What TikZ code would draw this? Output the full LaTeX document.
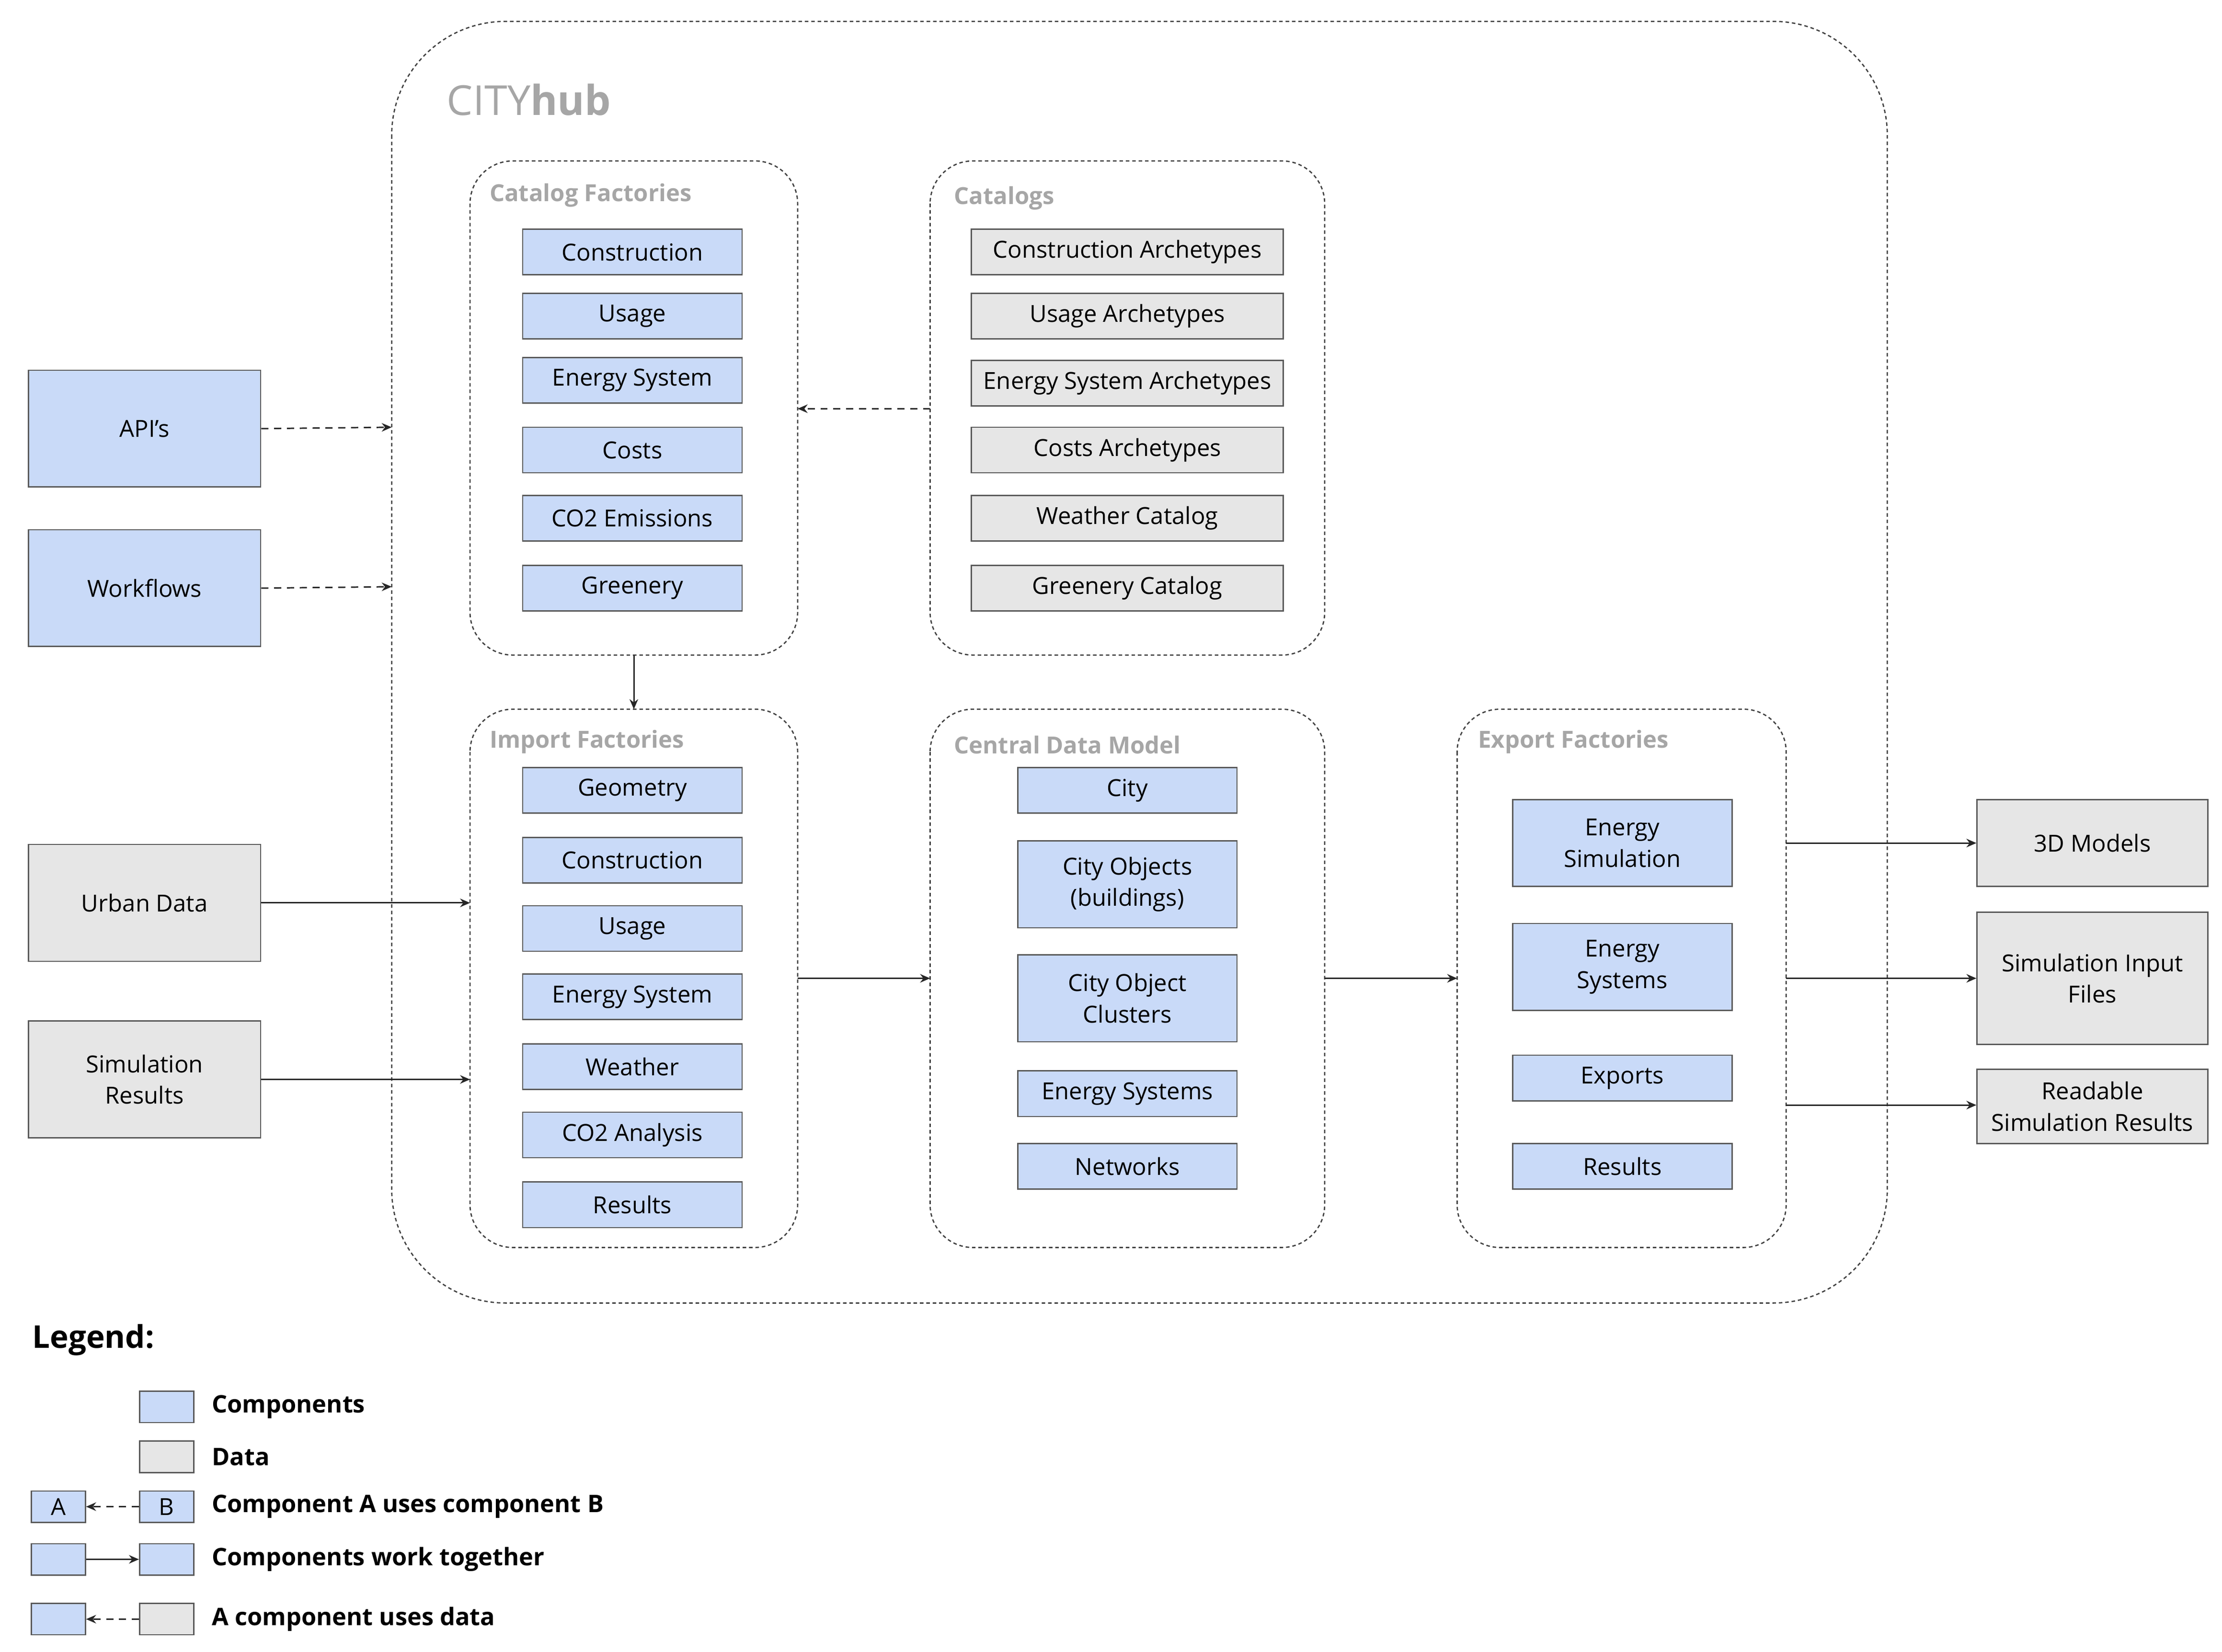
\documentclass[tikz,border=0pt]{standalone}
\usepackage{fontspec}
\setmainfont{Open Sans}
\usetikzlibrary{arrows.meta}
\definecolor{bl}{HTML}{C9DAF8}
\definecolor{gr}{HTML}{E6E6E6}
\definecolor{ln}{HTML}{595959}
\definecolor{tl}{HTML}{A6A6A6}
\begin{document}
\begin{tikzpicture}[x=1pt,y=-1pt,line width=0.9pt,
  txt/.style={font=\fontsize{16.5}{22}\selectfont,align=center},
  comp/.style={draw=ln,fill=bl,txt,inner sep=0pt,minimum height=32pt},
  dat/.style={draw=ln,fill=gr,txt,inner sep=0pt,minimum height=32pt},
  cont/.style={draw=black!75,dash pattern=on 2.5pt off 2pt,rounded corners=30pt},
  clabel/.style={anchor=west,text=tl,font=\fontsize{16.5}{20}\selectfont\bfseries},
  arr/.style={-{Stealth[length=7pt,width=6pt]},draw=black!85,line width=1pt},
  darr/.style={arr,dash pattern=on 5pt off 4pt},
  leg/.style={anchor=west,font=\fontsize{17}{20}\selectfont\bfseries},
  lb/.style={draw=ln,inner sep=0pt,minimum width=38pt,minimum height=22pt,txt}]
\useasboundingbox (0,0) rectangle (1560,1160);
\draw[cont,rounded corners=80pt] (275,15) rectangle (1325,915);
\node[anchor=west,text=tl,font=\fontsize{29}{34}\selectfont] at (310,70) {CITY\textbf{hub}};
% containers
\draw[cont] (330,113) rectangle (560,460);
\coordinate (cfR) at (560,287); \coordinate (cfB) at (445,460);
\node[clabel] at (340,137) {Catalog Factories};
\draw[cont] (653,113) rectangle (930,460);
\coordinate (caL) at (653,287);
\node[clabel] at (666,139) {Catalogs};
\draw[cont] (330,498) rectangle (560,876);
\coordinate (ifT) at (445,498); \coordinate (ifR) at (560,687);
\coordinate (ifL1) at (330,634); \coordinate (ifL2) at (330,758);
\node[clabel] at (340,521) {Import Factories};
\draw[cont] (653,498) rectangle (930,876);
\coordinate (cdL) at (653,687); \coordinate (cdR) at (930,687);
\node[clabel] at (666,523) {Central Data Model};
\draw[cont] (1023,498) rectangle (1254,876);
\coordinate (efL) at (1023,687);
\coordinate (efR1) at (1254,592); \coordinate (efR2) at (1254,687); \coordinate (efR3) at (1254,776);
\node[clabel] at (1034,521) {Export Factories};
\coordinate (hubL1) at (275,300); \coordinate (hubL2) at (275,412);
\foreach \t/\y/\n in {Construction/177/a1,Usage/222/a2,Energy System/267/a3,Costs/316/a4,CO2 Emissions/364/a5,Greenery/413/a6}
  \node[comp,minimum width=154pt] (\n) at (444,\y) {\t};
\foreach \t/\y/\n in {Construction Archetypes/177/b1,Usage Archetypes/222/b2,Energy System Archetypes/269/b3,Costs Archetypes/316/b4,Weather Catalog/364/b5,Greenery Catalog/413/b6}
  \node[dat,minimum width=219pt] (\n) at (791.5,\y) {\t};
\foreach \t/\y/\n in {Geometry/555/c1,Construction/604/c2,Usage/652/c3,Energy System/700/c4,Weather/749/c5,CO2 Analysis/797/c6,Results/846/c7}
  \node[comp,minimum width=154pt] (\n) at (444,\y) {\t};
\node[comp,minimum width=154pt] (d1) at (791.5,555) {City};
\node[comp,minimum width=154pt,minimum height=61pt] (d2) at (791.5,621) {City Objects\\(buildings)};
\node[comp,minimum width=154pt,minimum height=61pt] (d3) at (791.5,701) {City Object\\Clusters};
\node[comp,minimum width=154pt] (d4) at (791.5,768) {Energy Systems};
\node[comp,minimum width=154pt] (d5) at (791.5,819) {Networks};
\node[comp,minimum width=154pt,minimum height=61pt] (e1) at (1139,592) {Energy\\Simulation};
\node[comp,minimum width=154pt,minimum height=61pt] (e2) at (1139,679) {Energy\\Systems};
\node[comp,minimum width=154pt] (e3) at (1139,757) {Exports};
\node[comp,minimum width=154pt] (e4) at (1139,819) {Results};
\node[comp,minimum width=163pt,minimum height=82pt] (api) at (101.5,301) {API's};
\node[comp,minimum width=163pt,minimum height=82pt] (wf) at (101.5,413) {Workflows};
\node[dat,minimum width=163pt,minimum height=82pt] (ud) at (101.5,634) {Urban Data};
\node[dat,minimum width=163pt,minimum height=82pt] (sr) at (101.5,758) {Simulation\\Results};
\node[dat,minimum width=162pt,minimum height=61pt] (o1) at (1469,592) {3D Models};
\node[dat,minimum width=162pt,minimum height=93pt] (o2) at (1469,687) {Simulation Input\\Files};
\node[dat,minimum width=162pt,minimum height=52pt] (o3) at (1469,777) {Readable\\Simulation Results};
\draw[darr] (api.east) -- (hubL1);
\draw[darr] (wf.east) -- (hubL2);
\draw[darr] (caL) -- (cfR);
\draw[arr] (cfB) -- (ifT);
\draw[arr] (ud.east) -- (ifL1);
\draw[arr] (sr.east) -- (ifL2);
\draw[arr] (ifR) -- (cdL);
\draw[arr] (cdR) -- (efL);
\draw[arr] (efR1) -- (o1.west);
\draw[arr] (efR2) -- (o2.west);
\draw[arr] (efR3) -- (o3.west |- efR3);
\node[anchor=west,font=\fontsize{22}{26}\selectfont\bfseries] (lg) at (19,941) {Legend:};
\node[lb,fill=bl] (l1) at (117,988) {};
\node[leg] at (145,988) {Components};
\node[lb,fill=gr] (l2) at (117,1023) {};
\node[leg] at (145,1023) {Data};
\node[lb,fill=bl] (l3a) at (41,1058) {A};
\node[lb,fill=bl] (l3b) at (117,1058) {B};
\draw[darr] (l3b) -- (l3a);
\node[leg] at (145,1058) {Component A uses component B};
\node[lb,fill=bl] (l4a) at (41,1095) {};
\node[lb,fill=bl] (l4b) at (117,1095) {};
\draw[arr] (l4a) -- (l4b);
\node[leg] at (145,1095) {Components work together};
\node[lb,fill=bl] (l5a) at (41,1137) {};
\node[lb,fill=gr] (l5b) at (117,1137) {};
\draw[darr] (l5b) -- (l5a);
\node[leg] at (145,1137) {A component uses data};
\end{tikzpicture}
\end{document}
